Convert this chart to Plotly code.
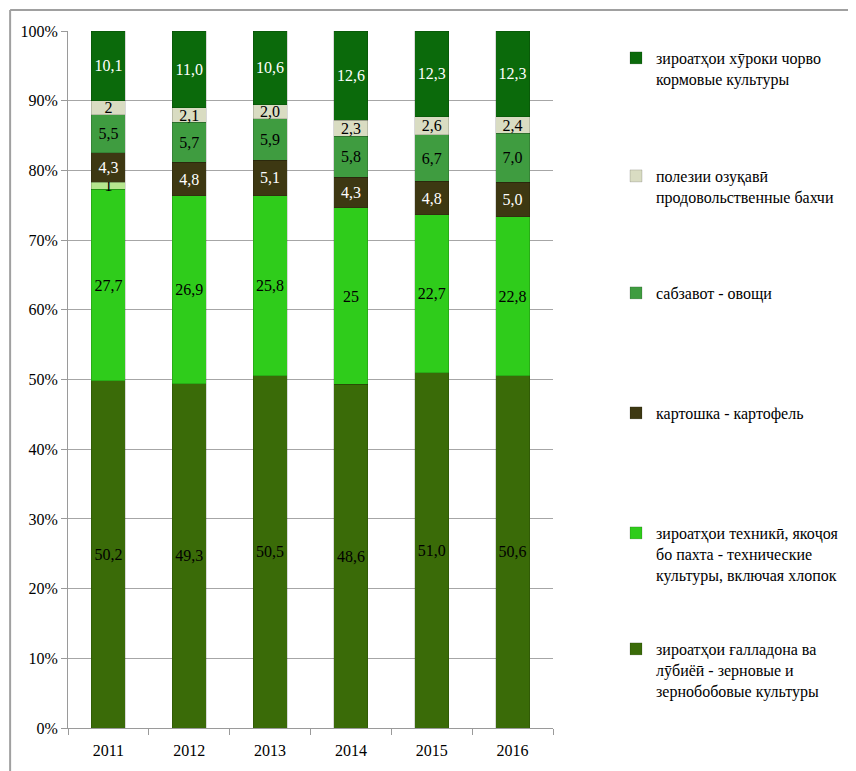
import plotly.graph_objects as go

years = ['2011', '2012', '2013', '2014', '2015', '2016']

grain = [50.2, 49.3, 50.5, 48.6, 51.0, 50.6]
technical = [27.7, 26.9, 25.8, 25, 22.7, 22.8]
other = [1, None, None, None, None, None]
potato = [4.3, 4.8, 5.1, 4.3, 4.8, 5.0]
vegetables = [5.5, 5.7, 5.9, 5.8, 6.7, 7.0]
melons = [2, 2.1, 2.0, 2.3, 2.6, 2.4]
forage = [10.1, 11.0, 10.6, 12.6, 12.3, 12.3]

names = {
    'grain': 'зироатҳои ғалладона ва<br>лӯбиёӣ - зерновые и<br>зернобобовые культуры',
    'technical': 'зироатҳои техникӣ, якоҷоя<br>бо пахта - технические<br>культуры, включая хлопок',
    'potato': 'картошка - картофель',
    'vegetables': 'сабзавот - овощи',
    'melons': 'полезии озуқавӣ<br>продовольственные бахчи',
    'forage': 'зироатҳои хӯроки чорво<br>кормовые культуры',
}


def fmt(v):
    if v is None:
        return ''
    if isinstance(v, int):
        return str(v)
    return f"{v:.1f}".replace('.', ',')


FONT = 'Liberation Serif'

# page has an 8px body margin, so the figure sits at (8, 8)
OFF = 8
W, H = 856 - OFF, 771 - OFF
# plot-area edges in page pixels
L, R, T, B = 67, 553, 31, 730

series = [
    ('grain', grain, '#3a6b08', 'black'),
    ('technical', technical, '#2fcc1b', 'black'),
    ('other', other, '#b6e68e', 'black'),
    ('potato', potato, '#3d3812', 'white'),
    ('vegetables', vegetables, '#3f9c40', 'black'),
    ('melons', melons, '#d9dcc2', 'black'),
    ('forage', forage, '#0b6a0b', 'white'),
]

# top of each legend entry (px from figure top)
legend_top = {'forage': 33, 'melons': 151, 'vegetables': 268,
              'potato': 388, 'technical': 508, 'grain': 624}

fig = go.Figure()
lg_i = 0
legends = {}
for key, vals, col, tcol in series:
    kw = {}
    if key in names:
        lg_i += 1
        lname = 'legend' if lg_i == 1 else f'legend{lg_i}'
        kw['legend'] = lname
        legends[lname] = dict(
            x=608 / W, y=1 - legend_top[key] / H,
            xref='container', yref='container',
            xanchor='left', yanchor='top',
            bgcolor='rgba(0,0,0,0)', valign='top',
            font=dict(family=FONT, size=16, color='black'),
        )
    fig.add_trace(go.Bar(
        x=years, y=vals, name=names.get(key, key),
        showlegend=key in names,
        marker=dict(color=col, line=dict(color='rgba(0,0,0,0.25)', width=0.6)),
        text=[fmt(v) for v in vals],
        textposition='inside', insidetextanchor='middle', textangle=0,
        textfont=dict(family=FONT, size=16, color=tcol),
        hoverinfo='skip',
        **kw,
    ))


def px_x(p):
    return (p - L) / (R - L)


def px_y(p):
    return (B - p) / (B - T)


# outer chart frame (top and left edges visible)
frame = [
    dict(type='line', xref='paper', yref='paper', layer='above',
         x0=px_x(9), x1=px_x(860), y0=px_y(10), y1=px_y(10),
         line=dict(color='#a0a0a0', width=2)),
    dict(type='line', xref='paper', yref='paper', layer='above',
         x0=px_x(9), x1=px_x(9), y0=px_y(10), y1=px_y(775),
         line=dict(color='#a0a0a0', width=2)),
]

fig.update_layout(
    barmode='stack', barnorm='percent', bargap=0.58,
    width=W, height=H,
    margin=dict(l=L - OFF, r=W + OFF - R, t=T - OFF, b=H + OFF - B),
    paper_bgcolor='white', plot_bgcolor='white',
    font=dict(family=FONT, size=16, color='black'),
    uniformtext=dict(minsize=16, mode='show'),
    shapes=frame,
    **legends,
)

fig.update_xaxes(
    showline=True, linecolor='#9a9a9a', linewidth=1,
    ticks='outside', tickson='boundaries', ticklen=6, tickcolor='#9a9a9a',
    ticklabelstandoff=8, showgrid=False,
)
fig.update_yaxes(
    range=[0, 100], dtick=10, ticksuffix='%',
    showline=True, linecolor='#9a9a9a', linewidth=1,
    ticks='outside', ticklen=6, tickcolor='#9a9a9a',
    showgrid=True, gridcolor='#a6a6a6', gridwidth=1, zeroline=False,
)

fig.write_html("out.html")
